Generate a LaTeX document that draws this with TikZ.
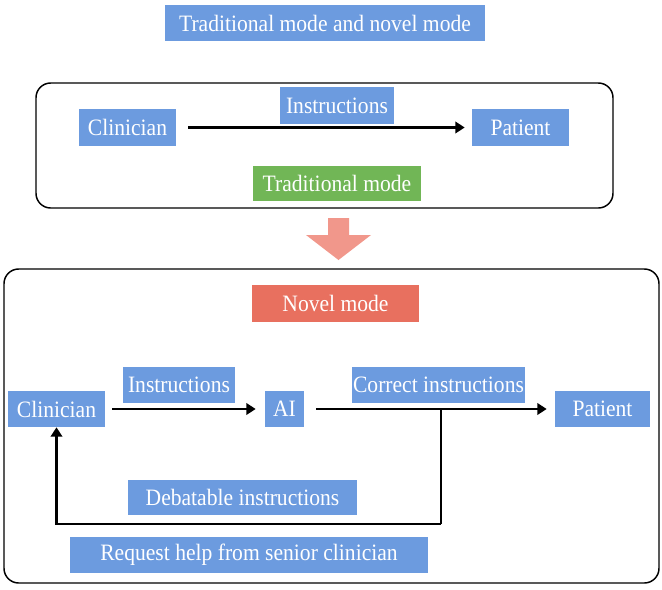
\documentclass[tikz,border=0pt]{standalone}
\usepackage{fontspec}
\setmainfont{Liberation Serif}[FakeStretch=0.92]
\usetikzlibrary{arrows.meta}
\definecolor{blueC}{HTML}{6C9BDF}
\definecolor{greenC}{HTML}{71B656}
\definecolor{redC}{HTML}{E8705F}
\definecolor{salmonC}{HTML}{F1978B}
\tikzset{
  lbl/.style={fill=#1, text=white, inner sep=0pt, font=\fontsize{17.6}{19}\selectfont},
  lbl/.default=blueC,
  arr/.style={line width=2pt, -{Triangle[length=7pt,width=8.5pt]}},
  flow/.style={line width=2pt},
  frame/.style={draw=black, line width=1.1pt, rounded corners=11pt},
}
\begin{document}
\begin{tikzpicture}[x=0.75pt,y=-0.75pt]
\useasboundingbox (0,0) rectangle (662,590);
% title
\node[lbl, minimum width=320*0.75pt, minimum height=36*0.75pt] (title) at (325,23) {Traditional mode and novel mode};
% traditional frame
\draw[frame] (36,83) rectangle (613,208);
\node[lbl, minimum width=97*0.75pt, minimum height=37*0.75pt] (c1) at (127.5,127.5) {Clinician};
\node[lbl, minimum width=114*0.75pt, minimum height=37*0.75pt] (i1) at (337,105.5) {Instructions};
\node[lbl, minimum width=97*0.75pt, minimum height=37*0.75pt] (p1) at (520.5,127.5) {Patient};
\node[lbl=greenC, minimum width=168*0.75pt, minimum height=35*0.75pt] (trad) at (337,183.5) {Traditional mode};
\draw[arr, shorten <=12*0.75pt, shorten >=7*0.75pt] (c1.east) -- (p1.west);
% big arrow
\fill[salmonC] (328,218) -- (349,218) -- (349,235) -- (371,235) -- (338.5,260) -- (306,235) -- (328,235) -- cycle;
% novel frame
\draw[frame] (4,269) rectangle (659,583);
\node[lbl=redC, minimum width=167*0.75pt, minimum height=37*0.75pt] (novel) at (335.5,303.5) {Novel mode};
\node[lbl, minimum width=97*0.75pt, minimum height=36*0.75pt] (c2) at (56.5,409) {Clinician};
\node[lbl, minimum width=112*0.75pt, minimum height=36*0.75pt] (i2) at (179,385) {Instructions};
\node[lbl, minimum width=39*0.75pt, minimum height=36*0.75pt] (ai) at (284.5,409) {AI};
\node[lbl, minimum width=173*0.75pt, minimum height=36*0.75pt] (ci) at (438.5,385) {Correct instructions};
\node[lbl, minimum width=95*0.75pt, minimum height=36*0.75pt] (p2) at (602.5,409) {Patient};
\node[lbl, minimum width=229*0.75pt, minimum height=35*0.75pt] (deb) at (242.5,497.5) {Debatable instructions};
\node[lbl, minimum width=358*0.75pt, minimum height=36*0.75pt] (req) at (249,555) {Request help from senior clinician};
\draw[arr, shorten <=7*0.75pt, shorten >=9*0.75pt] (c2.east) -- (ai.west);
\draw[arr, shorten <=12*0.75pt, shorten >=8*0.75pt] (ai.east) -- (p2.west);
\coordinate (split) at (441,409);
\coordinate (corner) at (441,524);
\draw[flow] (split) -- (corner);
\draw[arr] (corner) -| (c2.south);
\end{tikzpicture}
\end{document}
